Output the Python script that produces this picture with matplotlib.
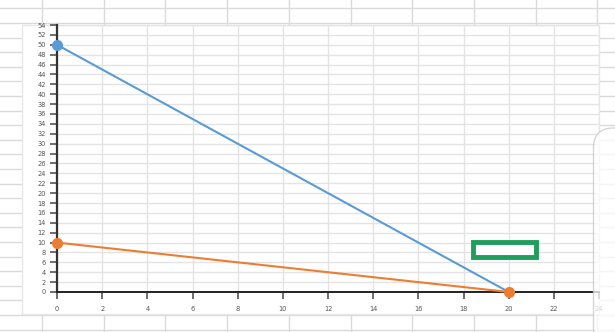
import matplotlib.pyplot as plt
from matplotlib.lines import Line2D
from matplotlib.patches import FancyBboxPatch, Rectangle

# chart data
x_vals = [0, 20]
blue_vals = [50, 0]
orange_vals = [10, 0]
x_ticks = list(range(0, 25, 2))
y_ticks = list(range(0, 55, 2))

W, H = 615, 332
BLUE = "#5b9bd5"
ORANGE = "#ed7d31"
SHEET_GRID = "#dadada"


def fx(px):
    return px / W


def fy(py):
    return 1 - py / H


fig = plt.figure(figsize=(W / 100, H / 100), dpi=100)
fig.set_facecolor("white")

# spreadsheet grid behind the chart
for k in range(0, 24):
    y = 8.4 + 14.6 * k
    fig.add_artist(Line2D([0, 1], [fy(y), fy(y)], color=SHEET_GRID, lw=1.0, zorder=0))
for xc in [42, 103.5, 165, 227, 289, 350.5, 412, 474, 535.5, 597]:
    fig.add_artist(Line2D([fx(xc), fx(xc)], [0, 1], color=SHEET_GRID, lw=1.0, zorder=0))

# chart box
fig.add_artist(
    Rectangle(
        (fx(22), fy(314)), fx(599) - fx(22), fy(25) - fy(314),
        transform=fig.transFigure, facecolor="white", edgecolor="#e6e6e6",
        lw=1.0, zorder=1,
    )
)

ax = fig.add_axes([fx(57), fy(292), fx(599) - fx(57), fy(25) - fy(292)])
ax.set_zorder(2)
ax.patch.set_alpha(0)

ax.plot(x_vals, blue_vals, color=BLUE, lw=1.5, zorder=3)
ax.plot(x_vals[:1], blue_vals[:1], "o", color=BLUE, ms=7, zorder=4, clip_on=False)
ax.plot(x_vals, orange_vals, color=ORANGE, lw=1.5, marker="o", ms=7, zorder=4, clip_on=False)

ax.set_xlim(0, 24)
ax.set_ylim(0, 54)
ax.set_xticks(x_ticks)
ax.set_yticks(y_ticks)
ax.grid(True, color="#e3e3e3", lw=1.0)
ax.set_axisbelow(True)

for side in ["top", "right"]:
    ax.spines[side].set_visible(False)
ax.spines["left"].set_color("#333333")
ax.spines["left"].set_linewidth(1.6)
ax.spines["bottom"].set_color("#222222")
ax.spines["bottom"].set_linewidth(1.4)

ax.tick_params(axis="both", colors="#555555", labelsize=4.8, length=5, width=1.2)
ax.tick_params(axis="x", pad=5)
ax.tick_params(axis="y", pad=3)

# selected cell marker
fig.add_artist(
    Rectangle(
        (fx(473), fy(257)), fx(536) - fx(473), fy(242) - fy(257),
        transform=fig.transFigure, facecolor="white", edgecolor="#1e9e5a",
        lw=3.5, zorder=5,
    )
)

# side panel peeking in from the right (coordinates in inches)
fig.add_artist(
    FancyBboxPatch(
        (5.935, -0.15), 0.8, 2.19,
        boxstyle="round,pad=0,rounding_size=0.2",
        transform=fig.dpi_scale_trans, facecolor="white", edgecolor="#c8c8c8",
        lw=1.0, alpha=0.75, zorder=6,
    )
)

plt.savefig("out.png", dpi=100)
